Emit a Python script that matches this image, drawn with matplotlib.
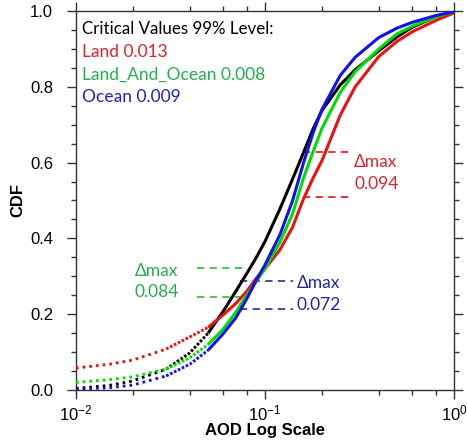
import numpy as np
import matplotlib
matplotlib.use('Agg')
import matplotlib.pyplot as plt
from matplotlib.ticker import FixedLocator, NullFormatter, FixedFormatter

# ---------------- data ----------------
aod = [0.01, 0.015, 0.02, 0.03, 0.04, 0.05, 0.06, 0.07, 0.08, 0.09, 0.1,
       0.12, 0.14, 0.16, 0.18, 0.2, 0.25, 0.3, 0.4, 0.5, 0.6, 0.8, 1.0]
cdf_obs = [0.004, 0.012, 0.024, 0.055, 0.098, 0.15, 0.207, 0.26, 0.307, 0.35, 0.392,
           0.478, 0.557, 0.627, 0.69, 0.737, 0.805, 0.845, 0.895, 0.932, 0.957, 0.985, 0.997]
cdf_land = [0.058, 0.068, 0.079, 0.108, 0.14, 0.165, 0.198, 0.228, 0.26, 0.295, 0.32,
            0.37, 0.43, 0.505, 0.56, 0.605, 0.725, 0.8, 0.88, 0.92, 0.945, 0.975, 0.995]
cdf_land_ocean = [0.020, 0.027, 0.035, 0.055, 0.085, 0.12, 0.16, 0.205, 0.25, 0.287, 0.32,
                  0.39, 0.465, 0.56, 0.63, 0.69, 0.785, 0.84, 0.9, 0.94, 0.96, 0.985, 0.998]
cdf_ocean = [0.002, 0.006, 0.013, 0.037, 0.068, 0.105, 0.148, 0.19, 0.24, 0.29, 0.33,
             0.41, 0.50, 0.60, 0.68, 0.74, 0.83, 0.878, 0.93, 0.955, 0.97, 0.988, 0.998]

legend_title = "Critical Values 99% Level:"
legend_labels = ["Land 0.013", "Land_And_Ocean 0.008", "Ocean 0.009"]

# Delta-max markers: (x_start, x_end, y_upper, y_lower, label)
dmax_land = (0.159, 0.288, 0.628, 0.509, "0.094")
dmax_land_ocean = (0.0437, 0.0765, 0.322, 0.245, "0.084")
dmax_ocean = (0.0737, 0.1406, 0.288, 0.214, "0.072")

# ---------------- style ----------------
plt.rcParams['font.family'] = ['Liberation Sans', 'DejaVu Sans']
C_BLACK = '#000000'
C_RED = '#f01010'
C_GREEN = '#00dd00'
C_BLUE = '#1010f0'
T_RED = '#e8202a'
T_GREEN = '#22b04a'
T_BLUE = '#2222bb'
D_BLUE = '#3a3a9a'
D_GREEN = '#33cc33'

fig = plt.figure(figsize=(4.67, 4.46), dpi=100)
ax = fig.add_axes([0.1627, 0.1256, 0.8095, 0.8497])
ax.set_xscale('log')
ax.set_xlim(0.01, 1.0)
ax.set_ylim(0.0, 1.0)

x = np.array(aod)
for yv, col in [(cdf_obs, C_BLACK), (cdf_land, C_RED),
                (cdf_land_ocean, C_GREEN), (cdf_ocean, C_BLUE)]:
    yv = np.array(yv)
    # sparse dotted part
    ax.plot(x[:4], yv[:4], color=col, lw=2.1, linestyle=(0, (0.9, 1.4)),
            dash_capstyle='butt', zorder=3)
    # denser dotted part
    ax.plot(x[3:6], yv[3:6], color=col, lw=2.1, linestyle=(0, (0.9, 0.6)),
            dash_capstyle='butt', zorder=3)
    # solid part
    ax.plot(x[5:], yv[5:], color=col, lw=2.2, solid_capstyle='butt',
            solid_joinstyle='round', zorder=3)

# delta max dashes and labels
def dmax(spec, dcol, tcol, tx, ty1, ty2):
    x0, x1, yu, yl, lab = spec
    for yy in (yu, yl):
        ax.plot([x0, x1], [yy, yy], color=dcol, lw=1.3, linestyle=(0, (4, 3)), zorder=2)
    ax.text(tx, ty1, "\u0394max", color=tcol, fontsize=12.5, family=['Lato', 'DejaVu Sans'],
            va='center', ha='left')
    ax.text(tx, ty2, lab, color=tcol, fontsize=12.5, family=['Lato', 'DejaVu Sans'],
            va='center', ha='left')

dmax(dmax_land, T_RED, T_RED, 0.296, 0.602, 0.544)
dmax(dmax_land_ocean, D_GREEN, T_GREEN, 0.0205, 0.314, 0.259)
dmax(dmax_ocean, D_BLUE, T_BLUE, 0.1476, 0.282, 0.224)

# legend text
lfam = ['Lato', 'DejaVu Sans']
ax.text(0.016, 0.9525, legend_title, transform=ax.transAxes, color='black',
        fontsize=12.2, family=lfam, va='center', ha='left')
for lab, col, yy in zip(legend_labels, [T_RED, T_GREEN, T_BLUE], [0.892, 0.831, 0.773]):
    ax.text(0.016, yy, lab, transform=ax.transAxes, color=col,
            fontsize=12.5, family=lfam, va='center', ha='left')

# ticks
ax.xaxis.set_major_locator(FixedLocator([0.01, 0.1, 1.0]))
ax.xaxis.set_major_formatter(FixedFormatter([r'$\mathregular{10^{-2}}$',
                                             r'$\mathregular{10^{-1}}$',
                                             r'$\mathregular{10^{0}}$']))
ax.xaxis.set_minor_locator(FixedLocator([0.02, 0.04, 0.06, 0.08, 0.2, 0.4, 0.6, 0.8]))
ax.xaxis.set_minor_formatter(NullFormatter())
ax.yaxis.set_major_locator(FixedLocator([0.0, 0.2, 0.4, 0.6, 0.8, 1.0]))
ax.yaxis.set_major_formatter(FixedFormatter(['0.0', '0.2', '0.4', '0.6', '0.8', '1.0']))
ax.yaxis.set_minor_locator(FixedLocator(np.arange(0.05, 1.0, 0.05)))
ax.tick_params(which='both', direction='out', top=True, right=True,
               color='#333333', width=1.0)
ax.tick_params(which='major', length=6.5, labelsize=12)
ax.tick_params(axis='x', which='major', pad=3)
ax.tick_params(axis='y', which='major', pad=10)
ax.tick_params(which='minor', length=3.3)
for s in ax.spines.values():
    s.set_linewidth(1.0)
    s.set_color('#333333')

ax.set_xlabel('AOD Log Scale', fontsize=12, fontweight='bold', labelpad=0)
ax.set_ylabel('CDF', fontsize=12, fontweight='bold', labelpad=3)

fig.savefig('out.png', dpi=100)
